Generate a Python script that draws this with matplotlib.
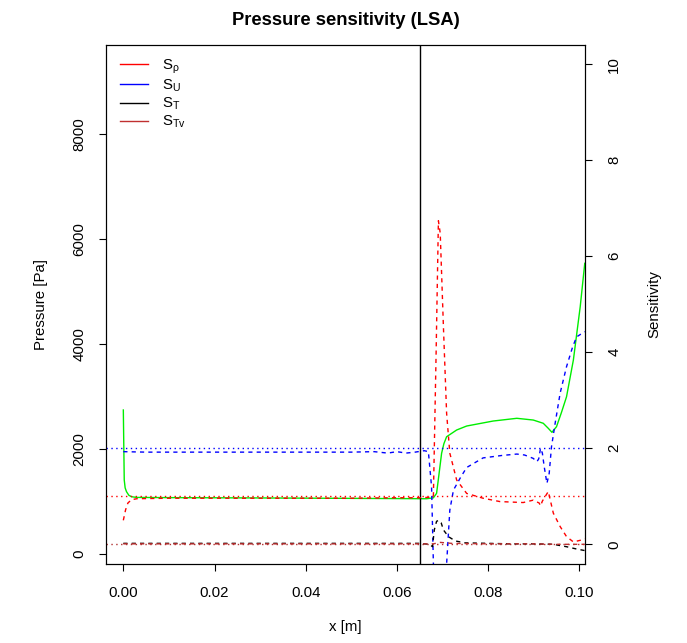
import numpy as np
import matplotlib
matplotlib.use("Agg")
import matplotlib.pyplot as plt
from matplotlib.lines import Line2D

plt.rcParams['font.family'] = ['Liberation Sans', 'DejaVu Sans']
plt.rcParams['mathtext.fontset'] = 'custom'
plt.rcParams['mathtext.rm'] = 'Liberation Sans'
plt.rcParams['mathtext.it'] = 'Liberation Sans:italic'

# pressure (left axis)
x_p = [0, 0.0002, 0.0004, 0.0007, 0.0012, 0.0018, 0.003, 0.01, 0.0168, 0.03, 0.04,
       0.05, 0.06, 0.0665, 0.0680, 0.0687, 0.0692, 0.0698, 0.0703, 0.0709, 0.0731,
       0.0753, 0.0811, 0.0863, 0.0899, 0.0921, 0.0932, 0.0940, 0.0950, 0.0961,
       0.0972, 0.0987, 0.1002, 0.1012]
p = [2743, 1410, 1260, 1187, 1120, 1091, 1078, 1074, 1072, 1068, 1064,
     1060, 1056, 1053, 1070, 1156, 1500, 1918, 2100, 2234, 2362,
     2438, 2533, 2585, 2552, 2490, 2394, 2318, 2425, 2700,
     2996, 3695, 4710, 5537]

# sensitivities (right axis)
x_rho = [0, 0.0005, 0.001, 0.0018, 0.003, 0.01, 0.02, 0.03, 0.04, 0.05, 0.06, 0.065,
         0.0675, 0.0680, 0.0686, 0.0691, 0.0695, 0.0702, 0.0709, 0.0716, 0.0731, 0.0753,
         0.0789, 0.0826, 0.0877, 0.0899, 0.0912, 0.0915, 0.0919, 0.0932, 0.0943,
         0.0958, 0.0972, 0.0987, 0.1005, 0.1012]
s_rho = [0.5, 0.72, 0.86, 0.93, 0.95, 0.96, 0.96, 0.96, 0.96, 0.96, 0.97, 0.97,
         0.98, 1.0, 4.0, 6.74, 6.48, 4.53, 2.73, 1.9, 1.34, 1.06,
         0.96, 0.89, 0.87, 0.92, 0.86, 0.80, 0.90, 1.1, 0.65,
         0.37, 0.16, 0.05, 0.09, 0.12]

x_U = [0, 0.005, 0.01, 0.02, 0.03, 0.04, 0.05, 0.055, 0.058, 0.06, 0.062, 0.064,
       0.066, 0.0669, 0.0676, 0.0680, 0.069, 0.070, 0.0709, 0.0713, 0.0716, 0.0724,
       0.074, 0.0753, 0.0789, 0.0830, 0.0863, 0.088, 0.0899, 0.0907, 0.0911, 0.0915,
       0.0919, 0.0923, 0.0929, 0.0934, 0.0939, 0.0947, 0.0958, 0.0972, 0.0985,
       0.0994, 0.1012]
s_U = [1.93, 1.92, 1.92, 1.92, 1.92, 1.92, 1.92, 1.93, 1.90, 1.93, 1.90, 1.92,
       1.95, 1.93, 1.2, -0.4, -1.5, -1.0, -0.41, 0.23, 0.71, 1.13,
       1.4, 1.6, 1.8, 1.85, 1.88, 1.86, 1.79, 1.72, 1.78, 2.0,
       1.9, 1.62, 1.27, 1.48, 2.03, 2.52, 3.15, 3.7, 4.1,
       4.32, 4.43]

x_T = [0, 0.01, 0.02, 0.03, 0.04, 0.05, 0.06, 0.065, 0.0672, 0.0678, 0.0682, 0.0687,
       0.0692, 0.0697, 0.0702, 0.0713, 0.0728, 0.075, 0.08, 0.085, 0.09, 0.0943,
       0.0972, 0.0995, 0.1012]
s_T = [0.02, 0.02, 0.02, 0.02, 0.02, 0.02, 0.02, 0.02, 0.0, -0.05, 0.3, 0.48,
       0.5, 0.45, 0.3, 0.16, 0.07, 0.03, 0.02, 0.01, 0.01, 0.0,
       -0.05, -0.1, -0.13]

x_Tv = [0, 0.02, 0.04, 0.06, 0.068, 0.0695, 0.072, 0.08, 0.09, 0.095, 0.1012]
s_Tv = [0.01, 0.01, 0.01, 0.01, 0.01, 0.04, 0.02, 0.01, 0.01, 0.0, 0.0]

x_shock = 0.0651
ref_levels = [2, 1, 0]
ref_colors = ['blue', 'red', '#b03030']

legend_labels = ['S$_\\mathrm{ρ}$', 'S$_\\mathrm{U}$', 'S$_\\mathrm{T}$', 'S$_\\mathrm{Tv}$']
sens_colors = ['red', 'blue', 'black', '#c03030']

fig = plt.figure(figsize=(6.87, 6.43), dpi=100)
ax = fig.add_axes([106/687, 1-564/643, 479/687, 519/643])
ax2 = ax.twinx()

lw = 1.0
ax.plot(x_p, p, color='#00ee00', lw=lw)
ax.axvline(x_shock, color='black', lw=lw)

dash = (3, 3)
for lev, c in zip(ref_levels, ref_colors):
    ax2.axhline(lev, color=c, lw=lw, dashes=(1, 2.5))
ax2.plot(x_rho, s_rho, color='red', lw=lw, dashes=dash)
ax2.plot(x_U, s_U, color='blue', lw=lw, dashes=dash)
ax2.plot(x_T, s_T, color='black', lw=lw, dashes=dash)
ax2.plot(x_Tv, s_Tv, color='#c03030', lw=lw, dashes=dash)

ax.set_xlim(-0.0038, 0.10125)
ax.set_ylim(-190, 9695)
ax2.set_ylim(-0.41, 10.40)

ax.set_xticks(np.arange(0, 0.101, 0.02))
ax.set_xticklabels(['0.00', '0.02', '0.04', '0.06', '0.08', '0.10'])
ax.set_yticks([0, 2000, 4000, 6000, 8000])
ax2.set_yticks([0, 2, 4, 6, 8, 10])

fs = 10.8
for a in (ax, ax2):
    a.tick_params(direction='out', length=5, width=0.8, labelsize=fs, pad=9)
    for s in a.spines.values():
        s.set_linewidth(0.8)
ax.tick_params(axis='x', pad=11)
ax.tick_params(axis='y', labelrotation=90)
ax2.tick_params(axis='y', labelrotation=90, pad=11)
for t in ax.get_yticklabels():
    t.set_va('center')
for t in ax2.get_yticklabels():
    t.set_va('center')

ax.set_xlabel('x [m]', fontsize=fs, labelpad=14)
ax.set_ylabel('Pressure [Pa]', fontsize=fs, labelpad=18)
ax2.set_ylabel('Sensitivity', fontsize=fs, labelpad=19, rotation=90)
fig.suptitle('Pressure sensitivity (LSA)', fontsize=13.2, fontweight='bold', x=0.503, y=0.981)

handles = [Line2D([], [], color=c, lw=lw) for c in sens_colors]
ax2.legend(handles, legend_labels, loc='upper left', bbox_to_anchor=(0.029, 0.976),
           frameon=False, fontsize=fs, handlelength=1.9, handletextpad=0.9,
           labelspacing=0.12, borderpad=0, borderaxespad=0)

fig.savefig('out.png', dpi=100)
